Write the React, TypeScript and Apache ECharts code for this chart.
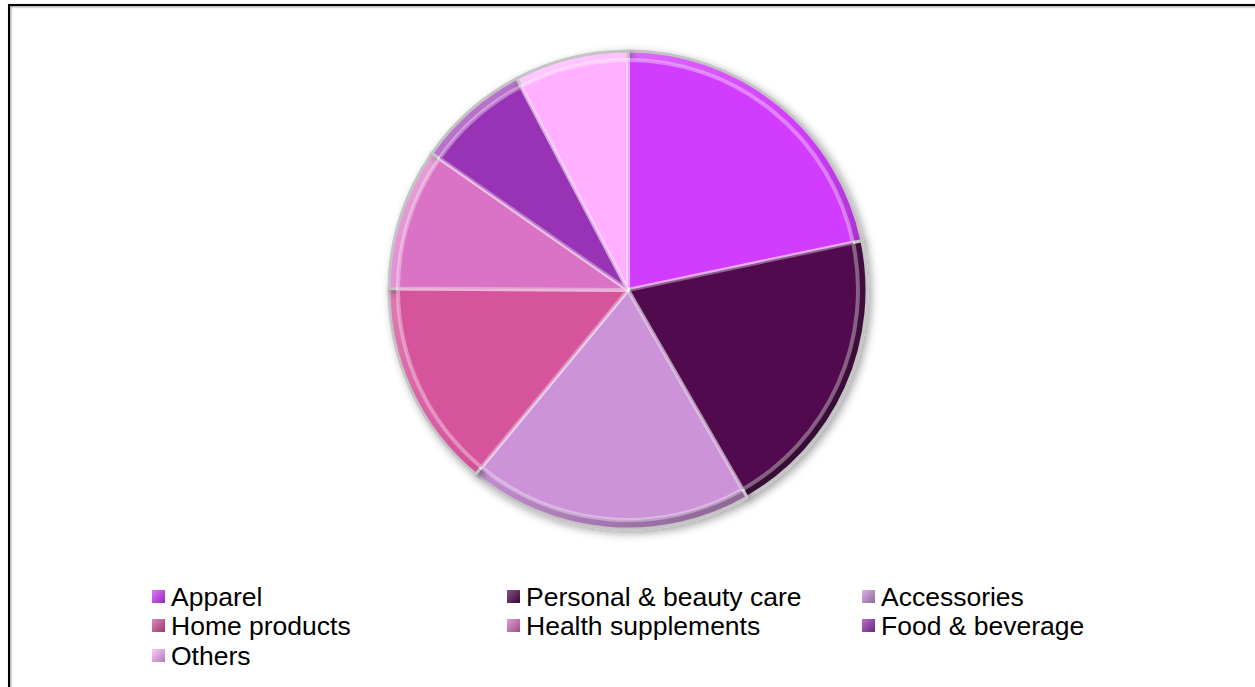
import React, { useEffect, useRef } from "react";
import * as echarts from "echarts";

const categories = [
  "Apparel",
  "Personal & beauty care",
  "Accessories",
  "Home products",
  "Health supplements",
  "Food & beverage",
  "Others",
];
const shares = [21.7, 20.0, 19.3, 14.1, 9.6, 7.6, 7.7];
const colors = ["#D23CFF", "#520A4E", "#CC93D9", "#D6549C", "#DA72C5", "#9933B5", "#FFB0FF"];

const legendCols = [152, 507, 862];
const legendRows = [598, 627, 657];

function mix(hex: string, target: number, t: number): string {
  const n = parseInt(hex.slice(1), 16);
  const r = (n >> 16) & 255, g = (n >> 8) & 255, b = n & 255;
  const f = (c: number) => Math.round(c + (target - c) * t);
  return `rgb(${f(r)},${f(g)},${f(b)})`;
}

export default function App() {
  const ref = useRef<HTMLDivElement>(null);
  useEffect(() => {
    if (!ref.current) return;
    const chart = echarts.init(ref.current, undefined, { renderer: "svg" });
    const cx = 628, cy = 290, R = 239;
    const baseData = categories.map((name, i) => ({
      name,
      value: shares[i],
      itemStyle: {
        color: new echarts.graphic.LinearGradient(cx - R, cy - R, cx + R, cy + R, [
          { offset: 0, color: mix(colors[i], 255, 0.45) },
          { offset: 0.5, color: colors[i] },
          { offset: 1, color: mix(colors[i], 0, 0.45) },
        ], true),
      },
    }));
    const topData = categories.map((name, i) => ({
      name,
      value: shares[i],
      itemStyle: { color: colors[i] },
    }));
    const legends = categories.map((name, i) => ({
      show: true,
      left: legendCols[i % 3],
      top: legendRows[Math.floor(i / 3)] - 15,
      padding: 0,
      itemWidth: 13,
      itemHeight: 13,
      icon: "rect",
      selectedMode: false,
      data: [
        {
          name,
          itemStyle: {
            color: {
              type: "linear", x: 0, y: 0, x2: 1, y2: 1,
              colorStops: [
                { offset: 0, color: mix(colors[i], 255, 0.3) },
                { offset: 1, color: mix(colors[i], 0, 0.3) },
              ],
            },
            borderWidth: 0,
          },
        },
      ],
      textStyle: {
        fontFamily: "Liberation Sans, Arial, sans-serif",
        fontSize: 26.5,
        color: "#000",
        padding: [0, 0, 0, 1],
      },
    }));
    chart.setOption({
      animation: false,
      backgroundColor: "#fff",
      legend: legends,
      graphic: [
        {
          type: "rect",
          shape: { x: 9, y: 5, width: 1300, height: 720 },
          style: {
            fill: "none",
            stroke: "#000",
            lineWidth: 2,
            shadowColor: "rgba(0,0,0,0.45)",
            shadowBlur: 2,
            shadowOffsetX: 1,
            shadowOffsetY: 1,
          },
          silent: true,
        },
      ],
      series: [
        {
          type: "pie",
          center: [cx, cy],
          radius: [0, R],
          startAngle: 90,
          clockwise: true,
          silent: true,
          label: { show: false },
          labelLine: { show: false },
          itemStyle: {
            borderColor: "#c4c4c4",
            borderWidth: 3,
            shadowColor: "rgba(0,0,0,0.35)",
            shadowBlur: 8,
            shadowOffsetX: 3,
            shadowOffsetY: 3,
          },
          data: baseData,
        },
        {
          type: "pie",
          center: [cx, cy],
          radius: [0, R - 9],
          startAngle: 90,
          clockwise: true,
          silent: true,
          label: { show: false },
          labelLine: { show: false },
          itemStyle: {
            borderColor: "rgba(255,255,255,0.35)",
            borderWidth: 4,
          },
          data: topData,
        },
      ],
    });
    return () => chart.dispose();
  }, []);
  return (
    <div
      ref={ref}
      style={{ position: "fixed", left: 0, top: 0, width: 1255, height: 687 }}
    />
  );
}
